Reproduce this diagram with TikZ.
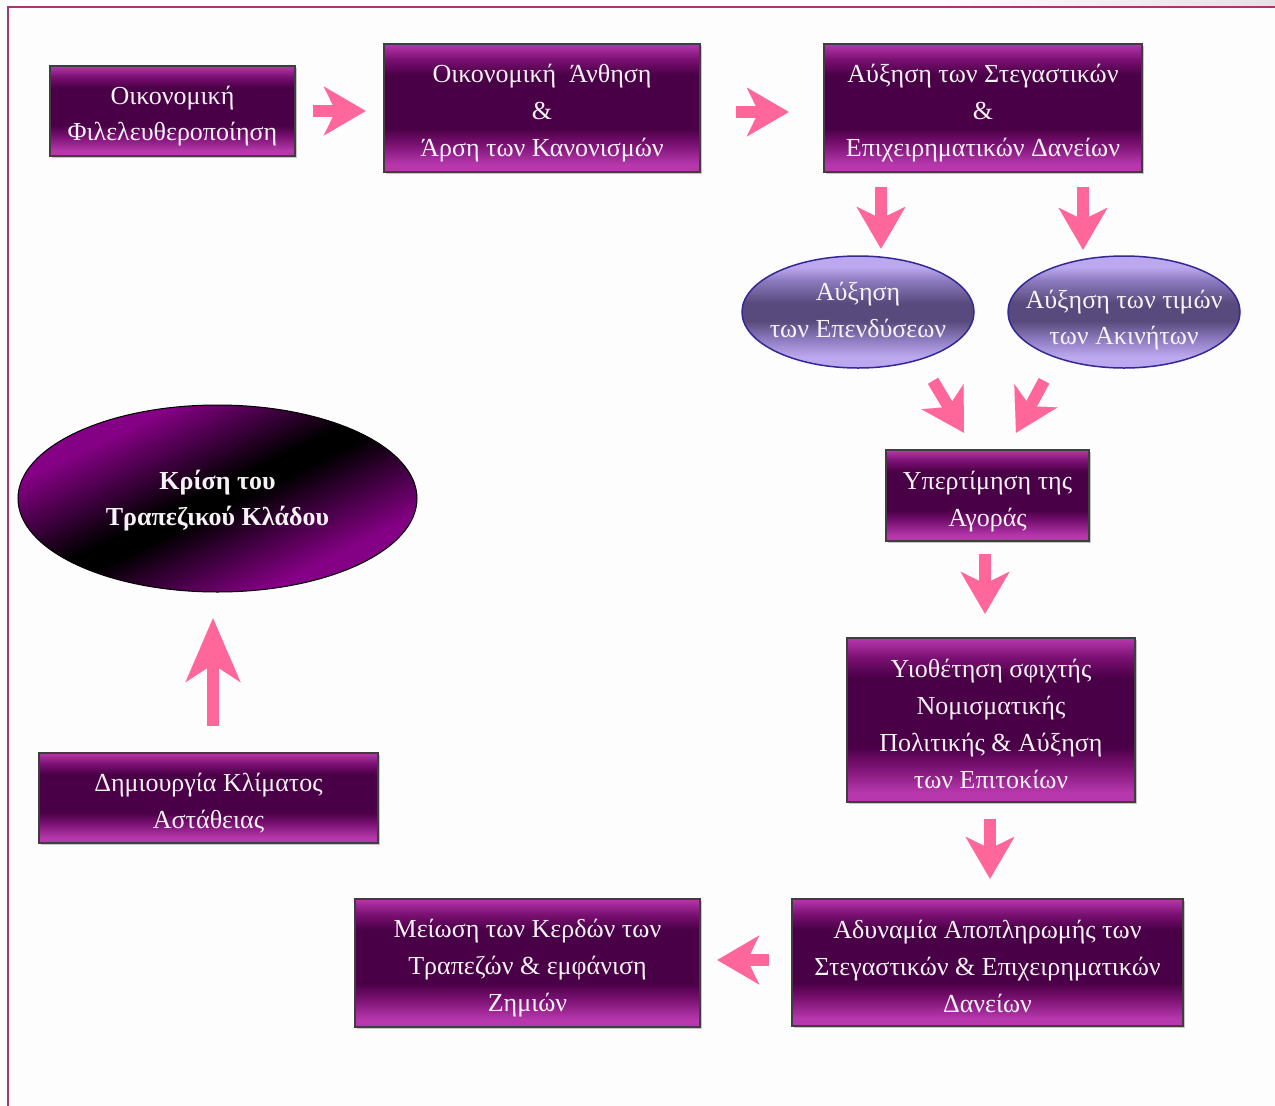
\documentclass[tikz,border=0pt]{standalone}
\usepackage{fontspec}
\setmainfont{Liberation Serif}
\usetikzlibrary{arrows.meta,shapes.geometric,calc,shadows}
\definecolor{boxlight}{RGB}{182,56,172}
\definecolor{boxmid}{RGB}{122,16,114}
\definecolor{boxdark}{RGB}{74,0,70}
\definecolor{boxborder}{RGB}{64,60,64}
\definecolor{ellight}{RGB}{188,168,238}
\definecolor{elmid}{RGB}{140,122,190}
\definecolor{eldark}{RGB}{88,74,124}
\definecolor{elborder}{RGB}{50,40,150}
\definecolor{crisispurple}{RGB}{132,0,132}
\definecolor{arrowpink}{RGB}{255,102,153}
\definecolor{framecol}{RGB}{165,55,115}
\definecolor{txt}{RGB}{246,242,246}
\definecolor{bg}{RGB}{253,253,253}
\pgfdeclareverticalshading{boxshade}{100bp}{color(0bp)=(boxlight); color(25bp)=(boxlight); color(28bp)=(boxlight); color(36bp)=(boxmid); color(42bp)=(boxdark); color(63bp)=(boxdark); color(69bp)=(boxmid); color(75bp)=(boxlight); color(100bp)=(boxlight)}
\pgfdeclareverticalshading{ellshade}{100bp}{color(0bp)=(ellight); color(25bp)=(ellight); color(30bp)=(ellight); color(38bp)=(elmid); color(46bp)=(eldark); color(54bp)=(eldark); color(64bp)=(elmid); color(70bp)=(ellight); color(100bp)=(ellight)}
\pgfdeclareverticalshading{crisisshade}{100bp}{color(0bp)=(crisispurple); color(30bp)=(crisispurple); color(48bp)=(black); color(52bp)=(black); color(70bp)=(crisispurple); color(100bp)=(crisispurple)}
\tikzset{
  box/.style={rectangle, draw=boxborder, line width=1.5pt, shading=boxshade,
    general shadow={fill=gray!45, shadow xshift=1.5pt, shadow yshift=-1.5pt},
    inner sep=0pt},
  ell/.style={ellipse, draw=elborder, line width=1.5pt, shading=ellshade, inner sep=0pt},
  crisisell/.style={ellipse, draw=black, line width=1pt, shading=crisisshade, shading angle=26,
    inner sep=0pt},
  boxtext/.style={text=txt, align=center, inner sep=0pt,
    font=\fontsize{26}{36.8}\selectfont},
  crisistext/.style={boxtext, font=\fontsize{26}{36}\selectfont\bfseries},
  pinkarrow/.style={draw=arrowpink, line width=12pt,
    -{Stealth[length=42pt,width=49pt,inset=12pt,line width=0.01pt]}},
  bigpinkarrow/.style={draw=arrowpink, line width=12.5pt,
    -{Stealth[length=64pt,width=55pt,inset=18pt,line width=0.01pt]}},
}
\begin{document}
\begin{tikzpicture}[x=1pt,y=-1pt]
\fill[bg] (0,0) rectangle (1275,1106);
\useasboundingbox (0,0) rectangle (1275,1106);
\shade[left color=bg, right color=gray!22] (940,0) rectangle (1275,5);
\draw[framecol, line width=2pt] (8,1106) -- (8,7) -- (1275,7);

% shapes
\node[box, minimum width=245pt, minimum height=90pt] (lib) at (172.5,111) {};
\node[box, minimum width=316pt, minimum height=128pt] (boom) at (542,108) {};
\node[box, minimum width=318pt, minimum height=128pt] (loans) at (983,108) {};
\node[ell, minimum width=232pt, minimum height=112pt] (inv) at (858,312) {};
\node[ell, minimum width=232pt, minimum height=112pt] (prices) at (1124,312) {};
\node[box, minimum width=203pt, minimum height=91pt] (over) at (987.5,495.5) {};
\node[box, minimum width=288pt, minimum height=164pt] (tight) at (991,720) {};
\node[box, minimum width=391pt, minimum height=127pt] (default) at (987.5,962.5) {};
\node[box, minimum width=345pt, minimum height=128pt] (profit) at (527.5,963) {};
\node[box, minimum width=339pt, minimum height=90pt] (instab) at (208.5,798) {};
\node[crisisell, minimum width=399pt, minimum height=187pt] (crisis) at (217.5,498.5) {};

% texts
\node[boxtext] (libT) at ($(lib.center)+(0,5)$) {Οικονομική\\Φιλελευθεροποίηση};
\node[boxtext] (boomT) at ($(boom.center)+(0,5)$) {Οικονομική\ \ Άνθηση\\\&\\Άρση των Κανονισμών};
\node[boxtext] (loansT) at ($(loans.center)+(0,5)$) {Αύξηση των Στεγαστικών\\\&\\Επιχειρηματικών Δανείων};
\node[boxtext] (invT) at ($(inv.center)+(0,-2)$) {Αύξηση\\των Επενδύσεων};
\node[boxtext] (pricesT) at ($(prices.center)+(0,8)$) {Αύξηση των τιμών\\των Ακινήτων};
\node[boxtext] (overT) at ($(over.center)+(0,6)$) {Υπερτίμηση της\\Αγοράς};
\node[boxtext] (tightT) at ($(tight.center)+(0,4)$) {Υιοθέτηση σφιχτής\\Νομισματικής\\Πολιτικής \& Αύξηση\\των Επιτοκίων};
\node[boxtext] (defaultT) at ($(default.center)+(0,4)$) {Αδυναμία Αποπληρωμής των\\Στεγαστικών \& Επιχειρηματικών\\Δανείων};
\node[boxtext] (profitT) at ($(profit.center)+(0,5)$) {Μείωση των Κερδών των\\Τραπεζών \& εμφάνιση\\Ζημιών};
\node[boxtext] (instabT) at ($(instab.center)+(0,5)$) {Δημιουργία Κλίματος\\Αστάθειας};
\node[crisistext] (crisisT) at ($(crisis.center)+(0,2)$) {Κρίση του\\Τραπεζικού Κλάδου};

% arrows
\draw[pinkarrow] ($(lib.east)+(17,0)$) -- ($(lib.east)+(70,0)$);
\draw[pinkarrow] ($(boom.east)+(35,4)$) -- ($(boom.east)+(88,4)$);
\draw[pinkarrow] ($(loans.south)+(-102,14)$) -- ($(loans.south)+(-102,76)$);
\draw[pinkarrow] ($(loans.south)+(100,14)$) -- ($(loans.south)+(100,77)$);
\draw[pinkarrow] ($(inv.south)+(75,12)$) -- ($(inv.south)+(106,64)$);
\draw[pinkarrow] ($(prices.south)+(-80,12)$) -- ($(prices.south)+(-108,64)$);
\draw[pinkarrow] ($(over.south)+(-2.5,12)$) -- ($(over.south)+(-2.5,72)$);
\draw[pinkarrow] ($(tight.south)+(-1,16)$) -- ($(tight.south)+(-1,76)$);
\draw[pinkarrow] ($(default.west)+(-22,-2.5)$) -- ($(default.west)+(-74,-2.5)$);
\draw[bigpinkarrow] ($(instab.north)+(4.5,-26)$) -- ($(instab.north)+(4.5,-134)$);
\end{tikzpicture}
\end{document}
